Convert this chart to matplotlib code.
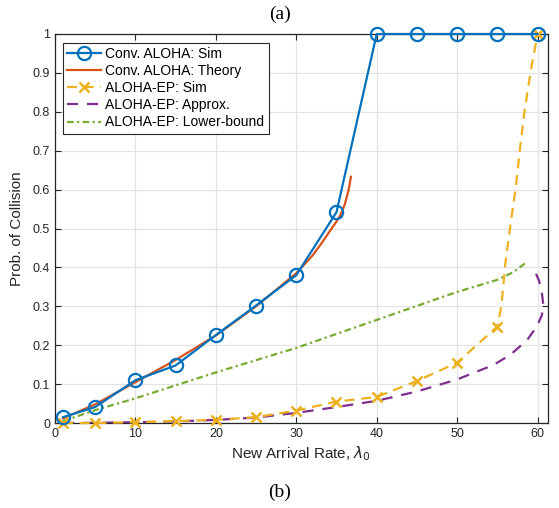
import matplotlib
matplotlib.use("Agg")
import matplotlib.pyplot as plt

# ---- data ----
conv_sim_x = [1, 5, 10, 15, 20, 25, 30, 35, 40, 45, 50, 55, 60]
conv_sim_y = [0.015, 0.041, 0.11, 0.148, 0.226, 0.302, 0.38, 0.542, 1.0, 1.0, 1.0, 1.0, 1.0]

conv_th_x = [1, 5, 10, 15, 20, 25, 30, 32, 33, 34, 35, 35.5, 36, 36.5, 36.8]
conv_th_y = [0.012, 0.048, 0.105, 0.162, 0.225, 0.300, 0.385, 0.430, 0.458, 0.488, 0.518, 0.535, 0.560, 0.598, 0.633]

ep_sim_x = [1, 5, 10, 15, 20, 25, 30, 35, 40, 45, 50, 55, 55.5, 56, 56.6, 57.3, 57.8, 58.4, 59.2, 60]
ep_sim_y = [0.0, 0.0, 0.002, 0.005, 0.008, 0.015, 0.032, 0.055, 0.067, 0.108, 0.155, 0.248,
            0.30, 0.41, 0.505, 0.607, 0.702, 0.805, 0.91, 1.0]
ep_sim_marks = [0, 1, 2, 3, 4, 5, 6, 7, 8, 9, 10, 11, 19]

ep_apx_x = [1, 5, 10, 15, 20, 25, 30, 35, 40, 45, 50, 54.5, 56.6, 58.7, 59.9, 60.5, 60.75, 60.55, 60.2, 59.7]
ep_apx_y = [0.0, 0.0005, 0.002, 0.004, 0.008, 0.014, 0.026, 0.041, 0.057, 0.081, 0.112, 0.149,
            0.175, 0.213, 0.248, 0.275, 0.298, 0.333, 0.365, 0.389]

ep_lb_x = [1, 5, 10, 20, 30, 40, 50, 55, 57, 58.5]
ep_lb_y = [0.005, 0.033, 0.0635, 0.13, 0.193, 0.265, 0.337, 0.368, 0.388, 0.411]

xticks = [0, 10, 20, 30, 40, 50, 60]
yticks = [0, 0.1, 0.2, 0.3, 0.4, 0.5, 0.6, 0.7, 0.8, 0.9, 1]

plt.rcParams['font.family'] = ['Liberation Sans', 'DejaVu Sans']

fig = plt.figure(figsize=(5.59, 5.08), dpi=100)
ax = fig.add_axes([55/559, 1 - 423/508, (548 - 55)/559, (423 - 34)/508])

blue = '#0072BD'
orange = '#D95319'
yellow = '#EDB120'
purple = '#7E2F8E'
green = '#77AC30'

ax.plot(conv_sim_x, conv_sim_y, '-', color=blue, lw=1.6, marker='o', ms=9.5,
        mfc='none', mew=1.6, label='Conv. ALOHA: Sim', zorder=5, clip_on=False)
ax.plot(conv_th_x, conv_th_y, '-', color=orange, lw=1.6, label='Conv. ALOHA: Theory', zorder=4)
ax.plot(ep_sim_x, ep_sim_y, color=yellow, lw=1.6, ls=(0, (4.5, 3)), marker='x', ms=7,
        mew=1.8, markevery=ep_sim_marks, label='ALOHA-EP: Sim', zorder=4, clip_on=False)
ax.plot(ep_apx_x, ep_apx_y, color=purple, lw=1.6, ls=(0, (5, 4)),
        label='ALOHA-EP: Approx.', zorder=3)
ax.plot(ep_lb_x, ep_lb_y, color=green, lw=1.6, ls=(0, (3, 1.5, 1, 1.5)),
        label='ALOHA-EP: Lower-bound', zorder=3)

ax.set_xlim(0, 61.3)
ax.set_ylim(0, 1)
ax.set_xticks(xticks)
ax.set_yticks(yticks)
ax.set_yticklabels(['0', '0.1', '0.2', '0.3', '0.4', '0.5', '0.6', '0.7', '0.8', '0.9', '1'])
ax.grid(True, color='#e3e3e3', lw=0.9)
ax.set_axisbelow(True)
ax.tick_params(direction='in', top=True, right=True, labelsize=9, colors='#262626',
               length=4, width=0.8)
for s in ax.spines.values():
    s.set_color('#262626')
    s.set_linewidth(0.9)

ax.set_xlabel(r'New Arrival Rate, $\lambda_0$', fontsize=11, color='#262626', labelpad=3)
ax.set_ylabel('Prob. of Collision', fontsize=11, color='#262626', labelpad=6)

leg = ax.legend(loc='upper left', bbox_to_anchor=(8/493, 1 - 9/389), fontsize=10,
                frameon=True, fancybox=False, edgecolor='#262626', framealpha=1,
                handlelength=2.45, handletextpad=0.3, borderpad=0.3, labelspacing=0.22,
                borderaxespad=0)
leg.get_frame().set_linewidth(0.8)

fig.text(0.5, 1 - 14/508, '(a)', ha='center', va='center', fontsize=14,
         family='Liberation Serif')
fig.text(0.5, 1 - 492/508, '(b)', ha='center', va='center', fontsize=14,
         family='Liberation Serif')

fig.savefig('out.png', dpi=100)
